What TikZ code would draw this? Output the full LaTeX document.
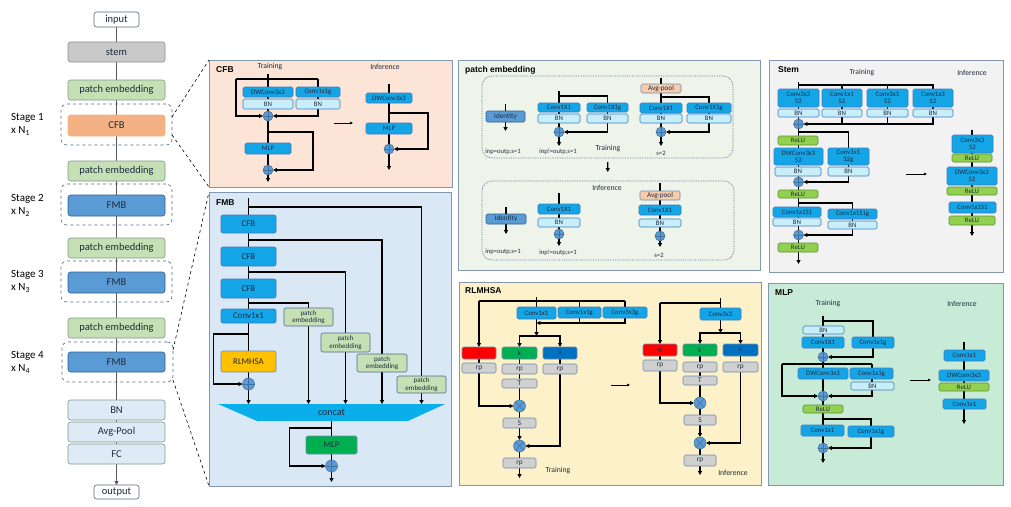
\documentclass[tikz,border=0pt]{standalone}
\usepackage{fontspec}
\setmainfont{Carlito}
\newfontfamily\ttlfont{Liberation Sans}
\usetikzlibrary{arrows.meta,calc}
\pgfdeclarelayer{back}
\pgfdeclarelayer{mid}
\pgfsetlayers{back,mid,main}
\definecolor{ctxt}{HTML}{1E2A3E}
\definecolor{cblue}{HTML}{14A5E6}
\definecolor{cbord}{HTML}{3B7BBF}
\definecolor{cbn}{HTML}{C8EEFA}
\definecolor{crelu}{HTML}{92D050}
\definecolor{creluB}{HTML}{5E8F30}
\definecolor{cgray}{HTML}{D0D0D0}
\definecolor{cgrayB}{HTML}{6D8BB0}
\definecolor{ccirc}{HTML}{5B9BD5}
\definecolor{ccircB}{HTML}{41719C}
\definecolor{pnlB}{HTML}{8597AF}
\definecolor{bgcfb}{HTML}{FCE5D7}
\definecolor{bgfmb}{HTML}{DAE7F4}
\definecolor{bgpe}{HTML}{EEF4E9}
\definecolor{bgrl}{HTML}{FDF1C9}
\definecolor{bgst}{HTML}{F2F2F2}
\definecolor{bgmlp}{HTML}{C8EBD7}
\definecolor{lgreen}{HTML}{C5E0B4}
\definecolor{lgreenB}{HTML}{7F9A8A}
\definecolor{lstem}{HTML}{C9C9C9}
\definecolor{lorange}{HTML}{F4B183}
\definecolor{lfmbc}{HTML}{5B9BD5}
\definecolor{lfmbB}{HTML}{2F5F8F}
\definecolor{lhead}{HTML}{DEEBF7}
\definecolor{lslate}{HTML}{51698A}
\definecolor{cyel}{HTML}{FFC000}
\definecolor{cgreen}{HTML}{00B050}
\definecolor{cq}{HTML}{FF0000}
\definecolor{cv}{HTML}{0070C0}
\definecolor{cap}{HTML}{F8CBAD}
\definecolor{ccat}{HTML}{0AAEEB}
\newcommand\mybox[7]{\node[#6, minimum width={(#4)-(#2)}, minimum height={(#5)-(#3)}] (#1) at ({((#2)+(#4))/2},{((#3)+(#5))/2}) {#7};}
\newcommand\pcirc[3]{\node[plusc, minimum size={2*(#3)}] (#1) at (#2) {}; \draw[plusl] (#1.north) -- (#1.south) (#1.west) -- (#1.east);}
\newcommand\xcirc[3]{\node[plusc, minimum size={2*(#3)}] (#1) at (#2) {}; \draw[plusl] (#1.north west) -- (#1.south east) (#1.north east) -- (#1.south west);}
\tikzset{
 bxbase/.style={rounded corners=1.5pt, inner sep=0pt, outer sep=0pt, line width=0.6pt, font=\fontsize{6.8}{7.1}\selectfont, text=ctxt},
 bxcv/.style={bxbase, draw=cbord, fill=cblue},
 bxcv2/.style={bxcv, align=center},
 bxbn/.style={bxbase, draw=cbord, fill=cbn},
 bxrelu/.style={bxbase, draw=creluB, fill=crelu},
 bxgr/.style={bxbase, draw=cgrayB, fill=cgray, font=\fontsize{7.3}{7.6}\selectfont},
 bxq/.style={bxbase, draw=cgrayB, fill=cq},
 bxk/.style={bxbase, draw=cgrayB, fill=cgreen},
 bxv/.style={bxbase, draw=cgrayB, fill=cv},
 bxid/.style={bxbase, draw=lfmbB, fill=lfmbc, font=\fontsize{7.2}{7.4}\selectfont},
 bxap/.style={bxbase, draw=cgrayB, fill=cap, font=\fontsize{7.2}{7.4}\selectfont},
 bxfm/.style={bxbase, draw=cbord, fill=cblue, rounded corners=2pt, font=\fontsize{8.8}{9}\selectfont},
 bxpe/.style={bxbase, draw=lslate, fill=lgreen, rounded corners=2pt, align=center, font=\fontsize{7}{7.6}\selectfont},
 lbox/.style={rounded corners=2.5pt, inner sep=0pt, outer sep=0pt, line width=0.6pt, draw=lslate, font=\fontsize{10.5}{11}\selectfont, text=ctxt},
 lpe/.style={lbox, fill=lgreen, draw=lgreenB},
 lfmb/.style={lbox, fill=lfmbc, draw=lfmbB},
 lhd/.style={lbox, fill=lhead, draw=lgreenB},
 stg/.style={rounded corners=6pt, inner sep=0pt, outer sep=0pt, draw=lslate, dashed, line width=0.6pt},
 stagel/.style={font=\fontsize{11}{12}\selectfont, text=black, inner sep=0pt},
 pnl/.style={inner sep=0pt, outer sep=0pt, draw=pnlB, line width=1pt},
 dotbx/.style={inner sep=0pt, outer sep=0pt, draw=lslate, densely dotted, rounded corners=10pt, line width=0.7pt},
 ttl/.style={font=\ttlfont\bfseries\fontsize{8.5}{9}\selectfont, text=black, inner sep=0pt, anchor=west},
 lab/.style={font=\fontsize{7.7}{8}\selectfont, text=ctxt, inner sep=0pt},
 sml/.style={font=\fontsize{6.6}{7}\selectfont, text=ctxt, inner sep=0pt},
 plusc/.style={circle, fill=ccirc, draw=ccircB, line width=0.5pt, inner sep=0pt, outer sep=0pt},
 plusl/.style={draw=ccircB, line width=0.5pt},
 myln/.style={line width=1.1pt, black},
 myarr/.style={myln, -{Triangle[length=3.8pt,width=3.8pt]}},
 myarrt/.style={line width=0.7pt, black, -{Triangle[length=3pt,width=2.6pt]}},
 lline/.style={line width=0.9pt, draw=black!65},
 larr/.style={lline, -{Triangle[length=3.8pt,width=3.8pt]}},
 dconn/.style={dashed, line width=0.6pt, black},
}
\begin{document}
\begin{tikzpicture}[x=1pt,y=-1pt]
\useasboundingbox (0,0) rectangle (1011,506);
% ---------------- panels
\begin{pgfonlayer}{back}
\fill[white] (0,0) rectangle (1011,506);
\mybox{P_cfb}{209}{60}{452}{187}{pnl, fill=bgcfb}{}
\mybox{P_fmb}{209}{192}{451}{486}{pnl, fill=bgfmb}{}
\mybox{P_pe}{458}{60}{760}{270}{pnl, fill=bgpe}{}
\mybox{P_rl}{459}{282}{761}{485}{pnl, fill=bgrl}{}
\mybox{P_st}{769}{60}{1003}{272}{pnl, fill=bgst}{}
\mybox{P_mlp}{768}{283}{1003}{485}{pnl, fill=bgmlp}{}
\end{pgfonlayer}
% ---------------- left column
\mybox{L_in}{94}{12}{139}{27}{lbox, fill=white}{input}
\mybox{L_stem}{68}{42}{165}{62}{lbox, fill=lstem, draw=black!45}{stem}
\mybox{L_pe1}{68}{80}{165}{100}{lpe}{patch embedding}
\mybox{L_s1}{61}{104}{172}{145}{stg}{}
\mybox{L_cfb}{68}{115}{165}{136}{lbox, fill=lorange, draw=lorange}{CFB}
\mybox{L_pe2}{68}{161}{165}{181}{lpe}{patch embedding}
\mybox{L_s2}{61}{184}{172}{225}{stg}{}
\mybox{L_f2}{68}{195}{165}{216}{lfmb}{FMB}
\mybox{L_pe3}{68}{238}{165}{258}{lpe}{patch embedding}
\mybox{L_s3}{61}{261}{172}{302}{stg}{}
\mybox{L_f3}{68}{272}{165}{293}{lfmb}{FMB}
\mybox{L_pe4}{68}{318}{165}{338}{lpe}{patch embedding}
\mybox{L_s4}{62}{342}{173}{382}{stg}{}
\mybox{L_f4}{68}{352}{165}{372}{lfmb}{FMB}
\mybox{L_bn}{68}{400}{165}{420}{lhd}{BN}
\mybox{L_ap}{68}{422}{165}{442}{lhd}{Avg-Pool}
\mybox{L_fc}{68}{444}{165}{464}{lhd}{FC}
\mybox{L_out}{94}{485}{139}{499}{lbox, fill=white}{output}
\node[stagel, anchor=west] (L_t1) at (11,118) {Stage 1};
\node[stagel, anchor=west] (L_n1) at (11,131) {x N\textsubscript{1}};
\node[stagel, anchor=west] (L_t2) at (11,199) {Stage 2};
\node[stagel, anchor=west] (L_n2) at (11,212) {x N\textsubscript{2}};
\node[stagel, anchor=west] (L_t3) at (11,275) {Stage 3};
\node[stagel, anchor=west] (L_n3) at (11,288) {x N\textsubscript{3}};
\node[stagel, anchor=west] (L_t4) at (11,356) {Stage 4};
\node[stagel, anchor=west] (L_n4) at (11,369) {x N\textsubscript{4}};
\begin{pgfonlayer}{mid}
\draw[lline] (L_in) -- (L_fc);
\draw[larr] (L_fc) -- (L_out);
\end{pgfonlayer}
\draw[dconn] ($(L_s1.east)+(0,-7.5)$) -- (P_cfb.north west);
\draw[dconn] ($(L_s1.east)+(0,10.5)$) -- (P_cfb.south west);
\draw[dconn] ($(L_s4.east)+(0,-12)$) -- (P_fmb.north west);
\draw[dconn] ($(L_s4.east)+(0,18)$) -- (P_fmb.south west);
% ---------------- CFB panel
\node[ttl] (T_cfb) at (216,70) {CFB};
\node[lab] (c_lt) at (270,67) {Training};
\node[lab] (c_li) at (385,67) {Inference};
\mybox{c_dw}{243}{87}{293}{97}{bxcv}{DWConv3x3}
\mybox{c_dwbn}{243}{99}{293}{109}{bxbn}{BN}
\mybox{c_g}{296}{87}{340}{97}{bxcv}{Conv1x1g}
\mybox{c_gbn}{296}{99}{340}{109}{bxbn}{BN}
\pcirc{c_p1}{268,116}{5}
\mybox{c_mlp}{245}{143}{291}{154}{bxcv}{MLP}
\pcirc{c_p2}{268,170}{5}
\coordinate (c_top) at (268,74);
\coordinate (c_tl) at (236,79);
\coordinate (c_tr) at (318,79);
\coordinate (c_s1) at (268,132);
\coordinate (c_s2) at (313,132);
\coordinate (c_out) at (268,182);
\coordinate (c_ma) at (334,123);
\coordinate (c_mb) at (353,123);
\coordinate (ci_top) at (389,84);
\mybox{ci_dw}{366}{93}{412}{103}{bxcv}{DWConv3x3}
\mybox{ci_mlp}{366}{123}{412}{134}{bxcv}{MLP}
\pcirc{ci_p}{389,149}{5}
\coordinate (ci_s) at (389,113);
\coordinate (ci_r) at (428,113);
\coordinate (ci_out) at (389,170);
\begin{pgfonlayer}{mid}
\draw[myln] (c_top) -- (c_p1);
\draw[myln] (c_tl) -- (c_tr);
\draw[myarr] (c_tl) |- (c_p1);
\draw[myarr] (c_tr) |- (c_p1);
\draw[myln] (c_p1) -- (c_p2);
\draw[myarr] (c_s1) -- (c_s2) |- (c_p2);
\draw[myarr] (c_p2) -- (c_out);
\draw[myarrt] (c_ma) -- (c_mb);
\draw[myln] (ci_top) -- (ci_p);
\draw[myarr] (ci_s) -- (ci_r) |- (ci_p);
\draw[myarr] (ci_p) -- (ci_out);
\end{pgfonlayer}
% ---------------- FMB panel
\node[ttl] (T_fmb) at (216,203) {FMB};
\coordinate (f_top) at (248.5,198);
\mybox{f_c1}{221}{215}{276}{233}{bxfm}{CFB}
\mybox{f_c2}{221}{247}{276}{266}{bxfm}{CFB}
\mybox{f_c3}{221}{279}{276}{298}{bxfm}{CFB}
\mybox{f_cv}{221}{309}{276}{323}{bxfm}{Conv1x1}
\mybox{f_rl}{221}{351}{276}{372}{bxfm, fill=cyel, draw=cgrayB}{RLMHSA}
\pcirc{f_p1}{248.5,384}{6}
\mybox{f_pe1}{284}{308}{333}{326}{bxpe}{patch\\embedding}
\mybox{f_pe2}{321}{333}{370}{352}{bxpe}{patch\\embedding}
\mybox{f_pe3}{357}{354}{407}{372}{bxpe}{patch\\embedding}
\mybox{f_pe4}{397}{376}{446}{393}{bxpe}{patch\\embedding}
\fill[ccat] (218,404) -- (445,404) -- (408,421) -- (257,421) -- cycle;
\mybox{f_cat}{218}{404}{445}{421}{inner sep=0pt, outer sep=0pt, font=\fontsize{10}{11}\selectfont, text=ctxt}{concat}
\mybox{f_mlp}{306}{436}{357}{454}{bxfm, fill=cgreen, draw=cgrayB}{MLP}
\pcirc{f_p2}{331.5,466}{6}
\coordinate (f_b4) at (248.5,207);
\coordinate (f_b3) at (248.5,240);
\coordinate (f_b2) at (248.5,272);
\coordinate (f_b1) at (248.5,303);
\coordinate (f_s) at (248.5,334);
\coordinate (f_ms) at (331.5,428);
\coordinate (f_out) at (331.5,482);
\begin{pgfonlayer}{mid}
\draw[myln] (f_top) -- (f_p1);
\draw[myarr] (f_b4) -| (f_pe4.center) -- (f_pe4.center |- f_cat.north);
\draw[myarr] (f_b3) -| (f_pe3.center) -- (f_pe3.center |- f_cat.north);
\draw[myarr] (f_b2) -| (f_pe2.center) -- (f_pe2.center |- f_cat.north);
\draw[myarr] (f_b1) -| (f_pe1.center) -- (f_pe1.center |- f_cat.north);
\draw[myarr] (f_s) -- ++(-35,0) |- (f_p1);
\draw[myarr] (f_p1) -- (f_p1 |- f_cat.north);
\draw[myln] (f_cat.south) -- (f_p2);
\draw[myarr] (f_ms) -- ++(-42,0) |- (f_p2);
\draw[myarr] (f_p2) -- (f_out);
\end{pgfonlayer}
% ---------------- patch embedding panel
\node[ttl] (T_pe) at (465,70) {patch embedding};
\mybox{pe_tr}{482}{76}{733}{158}{dotbx}{}
\mybox{pe_in}{482}{181}{734}{260}{dotbx}{}
\mybox{pe_id}{486}{111}{525}{122}{bxid}{Identity}
\coordinate (pe_idt) at (505.5,104);
\coordinate (pe_idb) at (505.5,131);
\node[sml] (pe_l1) at (503,152) {inp=outp,s=1};
\mybox{pe_a}{538}{103}{580}{112}{bxcv}{Conv1X1}
\mybox{pe_abn}{538}{114}{580}{123}{bxbn}{BN}
\mybox{pe_b}{587}{103}{628}{112}{bxcv}{Conv1X1g}
\mybox{pe_bbn}{587}{114}{628}{123}{bxbn}{BN}
\pcirc{pe_p1}{559,132}{5}
\coordinate (pe_t1) at (559,91);
\coordinate (pe_j1) at (559,96);
\coordinate (pe_o1) at (559,146);
\node[sml] (pe_l2) at (558,152) {inp!=outp,s=1};
\node[lab] (pe_l3) at (608,149) {Training};
\coordinate (pe_t2) at (661,78);
\mybox{pe_ap}{641}{84}{681}{93}{bxap}{Avg-pool}
\mybox{pe_c}{640}{103}{682}{113}{bxcv}{Conv1X1}
\mybox{pe_cbn}{640}{114}{682}{123}{bxbn}{BN}
\mybox{pe_d}{687}{103}{731}{113}{bxcv}{Conv1X1g}
\mybox{pe_dbn}{687}{114}{731}{123}{bxbn}{BN}
\pcirc{pe_p2}{661,132}{5}
\coordinate (pe_j2) at (661,97);
\coordinate (pe_o2) at (661,146);
\node[sml] (pe_l4) at (661,153) {s=2};
\node[lab] (pi_l0) at (607,188) {Inference};
\mybox{pi_id}{486}{214}{526}{224}{bxid}{Identity}
\coordinate (pi_idt) at (506,207);
\coordinate (pi_idb) at (506,234);
\node[sml] (pi_l1) at (503,252) {inp=outp,s=1};
\mybox{pi_a}{538}{204}{580}{214}{bxcv}{Conv1X1}
\mybox{pi_abn}{538}{218}{580}{227}{bxbn}{BN}
\pcirc{pi_p1}{559,234}{5}
\coordinate (pi_t1) at (559,193);
\coordinate (pi_o1) at (559,246);
\node[sml] (pi_l2) at (558,253) {inp!=outp,s=1};
\coordinate (pi_t2) at (660,183);
\mybox{pi_ap}{640}{191}{680}{200}{bxap}{Avg-pool}
\mybox{pi_c}{639}{205}{681}{215}{bxcv}{Conv1X1}
\mybox{pi_cbn}{639}{219}{681}{227}{bxbn}{BN}
\pcirc{pi_p2}{660,236}{5}
\coordinate (pi_o2) at (660,247);
\node[sml] (pi_l4) at (659,255) {s=2};
\begin{pgfonlayer}{mid}
\draw[myln] (pe_idt) -- (pe_id);
\draw[myarr] (pe_id) -- (pe_idb);
\draw[myln] (pe_t1) -- (pe_p1);
\draw[myarr] (pe_j1) -| (pe_b.center) |- (pe_p1);
\draw[myarr] (pe_p1) -- (pe_o1);
\draw[myln] (pe_t2) -- (pe_p2);
\draw[myarr] (pe_j2) -| (pe_d.center) |- (pe_p2);
\draw[myarr] (pe_p2) -- (pe_o2);
\draw[myarr, shorten <=4pt, shorten >=9pt] (pe_tr) -- (pe_in);
\draw[myln] (pi_idt) -- (pi_id);
\draw[myarr] (pi_id) -- (pi_idb);
\draw[myln] (pi_t1) -- (pi_p1);
\draw[myarr] (pi_p1) -- (pi_o1);
\draw[myln] (pi_t2) -- (pi_p2);
\draw[myarr] (pi_p2) -- (pi_o2);
\end{pgfonlayer}
% ---------------- RLMHSA panel
\node[ttl] (T_rl) at (465,291) {RLMHSA};
\mybox{r_a}{517}{307}{556}{319}{bxcv}{Conv1x1}
\mybox{r_b}{558}{307}{601}{318}{bxcv}{Conv1x1g}
\mybox{r_c}{603}{307}{647}{318}{bxcv}{Conv3x3g}
\coordinate (r_top) at (536.5,297);
\coordinate (r_jL) at (479,301);
\coordinate (r_jR) at (625,301);
\coordinate (r_j3) at (536.5,323);
\coordinate (r_jk) at (536.5,336);
\mybox{r_q}{462}{347}{496}{359}{bxq}{q}
\mybox{r_k}{502}{347}{537}{359}{bxk}{k}
\mybox{r_v}{543}{347}{577}{359}{bxv}{v}
\mybox{r_qrp}{462}{363}{496}{373}{bxgr}{rp}
\mybox{r_krp}{502}{364}{537}{374}{bxgr}{rp}
\mybox{r_T}{502}{379}{537}{388}{bxgr}{T}
\mybox{r_vrp}{543}{364}{577}{374}{bxgr}{rp}
\xcirc{r_x1}{519.5,406}{6}
\mybox{r_S}{503}{418}{536}{428}{bxgr}{S}
\xcirc{r_x2}{519.5,446}{6}
\mybox{r_rp}{503}{458}{536}{468}{bxgr}{rp}
\coordinate (r_out) at (519.5,478);
\node[lab] (r_lt) at (558,471) {Training};
\coordinate (r_ma) at (611,385);
\coordinate (r_mb) at (630,385);
\mybox{ri_a}{700}{308}{741}{320}{bxcv}{Conv3x3}
\coordinate (ri_top) at (720.5,298);
\coordinate (ri_jL) at (660,303);
\coordinate (ri_jk) at (720.5,333);
\mybox{ri_q}{643}{344}{677}{356}{bxq}{q}
\mybox{ri_k}{683}{344}{717}{356}{bxk}{k}
\mybox{ri_v}{723}{344}{758}{356}{bxv}{v}
\mybox{ri_qrp}{643}{360}{677}{371}{bxgr}{rp}
\mybox{ri_krp}{683}{362}{717}{372}{bxgr}{rp}
\mybox{ri_T}{683}{376}{717}{385}{bxgr}{T}
\mybox{ri_vrp}{723}{362}{758}{372}{bxgr}{rp}
\xcirc{ri_x1}{700,403}{6}
\mybox{ri_S}{684}{415}{716}{425}{bxgr}{S}
\xcirc{ri_x2}{700,443}{6}
\mybox{ri_rp}{684}{455}{716}{466}{bxgr}{rp}
\coordinate (ri_out) at (700,475);
\node[lab] (ri_lt) at (733,473) {Inference};
\begin{pgfonlayer}{mid}
\draw[myln] (r_jL) -- (r_jR);
\draw[myarr] (r_jL) -- (r_q);
\draw[myln] (r_jL -| r_b) -- (r_j3 -| r_b);
\draw[myarr] (r_jR) |- (r_j3);
\draw[myarr] (r_top) -- (r_jk);
\draw[myarr] (r_jk) -| (r_k);
\draw[myarr] (r_jk) -| (r_v);
\draw[myln] (r_q) -- (r_qrp);
\draw[myarr] (r_qrp) |- (r_x1);
\draw[myln] (r_k) -- (r_krp);
\draw[myln] (r_krp) -- (r_T);
\draw[myln] (r_T) -- (r_x1);
\draw[myln] (r_v) -- (r_vrp);
\draw[myln] (r_x1) -- (r_S);
\draw[myarr] (r_S) -- (r_x2);
\draw[myarr] (r_vrp) |- (r_x2);
\draw[myln] (r_x2) -- (r_rp);
\draw[myarr] (r_rp) -- (r_out);
\draw[myarrt] (r_ma) -- (r_mb);
\draw[myln] (ri_jL) -| (ri_top);
\draw[myarr] (ri_jL) -- (ri_q);
\draw[myarr] (ri_top) -- (ri_jk);
\draw[myarr] (ri_jk) -| (ri_k);
\draw[myarr] (ri_jk) -| (ri_v);
\draw[myln] (ri_q) -- (ri_qrp);
\draw[myarr] (ri_qrp) |- (ri_x1);
\draw[myln] (ri_k) -- (ri_krp);
\draw[myln] (ri_krp) -- (ri_T);
\draw[myln] (ri_T) -- (ri_x1);
\draw[myln] (ri_v) -- (ri_vrp);
\draw[myln] (ri_x1) -- (ri_S);
\draw[myarr] (ri_S) -- (ri_x2);
\draw[myarr] (ri_vrp) |- (ri_x2);
\draw[myln] (ri_x2) -- (ri_rp);
\draw[myarr] (ri_rp) -- (ri_out);
\end{pgfonlayer}
% ---------------- Stem panel
\node[ttl] (T_st) at (778,70) {Stem};
\node[lab] (s_lt) at (862,73) {Training};
\node[lab] (s_li) at (972,73) {Inference};
\coordinate (s_top) at (798.5,82);
\coordinate (s_j) at (798.5,85);
\mybox{s_a}{778}{89}{819}{107}{bxcv2}{Conv3x3\\S2}
\mybox{s_abn}{778}{109}{819}{117}{bxbn}{BN}
\mybox{s_b}{822}{89}{862}{107}{bxcv2}{Conv1x1\\S2}
\mybox{s_bbn}{822}{109}{862}{117}{bxbn}{BN}
\mybox{s_c}{867}{89}{908}{107}{bxcv2}{Conv3x1\\S2}
\mybox{s_cbn}{867}{109}{908}{117}{bxbn}{BN}
\mybox{s_d}{913}{89}{953}{107}{bxcv2}{Conv1x3\\S2}
\mybox{s_dbn}{913}{109}{953}{117}{bxbn}{BN}
\pcirc{s_p1}{798.5,124}{5}
\mybox{s_r1}{778}{136}{818}{145}{bxrelu}{ReLU}
\coordinate (s_j2) at (798.5,132);
\mybox{s_e}{774}{148}{823}{165}{bxcv2}{DWConv3x3\\S2}
\mybox{s_ebn}{775}{167}{821}{176}{bxbn}{BN}
\mybox{s_f}{828}{148}{869}{165}{bxcv2}{Conv1x1\\S2g}
\mybox{s_fbn}{828}{167}{869}{176}{bxbn}{BN}
\pcirc{s_p2}{798.5,182}{5}
\mybox{s_r2}{778}{190}{818}{198}{bxrelu}{ReLU}
\coordinate (s_j3) at (798.5,203);
\mybox{s_g}{773}{207}{821}{217}{bxcv}{Conv1x1S1}
\mybox{s_gbn}{773}{218}{821}{226}{bxbn}{BN}
\mybox{s_h}{828}{209}{877}{219}{bxcv}{Conv1x1S1g}
\mybox{s_hbn}{828}{221}{877}{229}{bxbn}{BN}
\pcirc{s_p3}{798.5,235}{5}
\mybox{s_r3}{778}{243}{818}{252}{bxrelu}{ReLU}
\coordinate (s_out) at (798.5,264);
\coordinate (s_ma) at (906,174);
\coordinate (s_mb) at (927,174);
\coordinate (si_top) at (972,130);
\coordinate (si_out) at (972,236);
\mybox{si_a}{952}{135}{993}{153}{bxcv2}{Conv3x3\\S2}
\mybox{si_ar}{952}{154}{992}{162}{bxrelu}{ReLU}
\mybox{si_b}{947}{167}{997}{185}{bxcv2}{DWConv3x3\\S2}
\mybox{si_br}{947}{187}{997}{195}{bxrelu}{ReLU}
\mybox{si_c}{949}{202}{996}{213}{bxcv}{Conv1x1S1}
\mybox{si_cr}{949}{216}{995}{225}{bxrelu}{ReLU}
\begin{pgfonlayer}{mid}
\draw[myln] (s_top) -- (s_p1);
\draw[myln] (s_j) -| (s_d.center);
\draw[myarr] (s_d.center) |- (s_p1);
\draw[myln] (s_j -| s_b) -- (s_b.center |- s_p1);
\draw[myln] (s_j -| s_c) -- (s_c.center |- s_p1);
\draw[myln] (s_p1) -- (s_p2);
\draw[myarr] (s_j2) -| (s_f.center) |- (s_p2);
\draw[myln] (s_p2) -- (s_p3);
\draw[myarr] (s_j3) -| (s_h.center) |- (s_p3);
\draw[myarr] (s_p3) -- (s_out);
\draw[myarrt] (s_ma) -- (s_mb);
\draw[myarr] (si_top) -- (si_out);
\end{pgfonlayer}
% ---------------- MLP panel
\node[ttl] (T_mlp) at (775,293) {MLP};
\node[lab] (m_lt) at (828,304) {Training};
\node[lab] (m_li) at (962,304) {Inference};
\coordinate (m_top) at (823,316);
\coordinate (m_j1) at (823,321);
\mybox{m_bn}{803}{326}{844}{334}{bxbn}{BN}
\mybox{m_a}{802}{337}{844}{348}{bxcv}{Conv1X1}
\mybox{m_b}{852}{337}{894}{348}{bxcv}{Conv1x1g}
\pcirc{m_p1}{823,357}{5}
\coordinate (m_jl) at (782,364);
\coordinate (m_jr) at (872,364);
\mybox{m_c}{798}{368}{848}{379}{bxcv}{DWConv3x3}
\mybox{m_d}{850}{368}{893}{379}{bxcv}{Conv1x1g}
\mybox{m_dbn}{851}{382}{894}{390}{bxbn}{BN}
\pcirc{m_p2}{823,396}{5}
\mybox{m_r}{803}{405}{843}{413}{bxrelu}{ReLU}
\coordinate (m_j3) at (823,419);
\mybox{m_e}{801}{425}{844}{436}{bxcv}{Conv1x1}
\mybox{m_f}{848}{426}{894}{437}{bxcv}{Conv1x1g}
\pcirc{m_p3}{823,448}{5}
\coordinate (m_out) at (823,463);
\coordinate (m_ma) at (910,380);
\coordinate (m_mb) at (931,380);
\coordinate (mi_top) at (964,342);
\coordinate (mi_out) at (964,424);
\mybox{mi_a}{944}{350}{985}{361}{bxcv}{Conv1x1}
\mybox{mi_b}{939}{370}{989}{381}{bxcv}{DWConv3x3}
\mybox{mi_br}{939}{383}{989}{391}{bxrelu}{ReLU}
\mybox{mi_c}{943}{399}{986}{409}{bxcv}{Conv1x1}
\begin{pgfonlayer}{mid}
\draw[myln] (m_top) -- (m_p1);
\draw[myarr] (m_j1) -| (m_b.center) |- (m_p1);
\draw[myln] (m_jl) -- (m_jr);
\draw[myarr] (m_jl) |- (m_p2);
\draw[myarr] (m_jr) |- (m_p2);
\draw[myln] (m_p1) -- (m_p2);
\draw[myln] (m_p2) -- (m_p3);
\draw[myarr] (m_j3) -| (m_f.center) |- (m_p3);
\draw[myarr] (m_p3) -- (m_out);
\draw[myarrt] (m_ma) -- (m_mb);
\draw[myarr] (mi_top) -- (mi_out);
\end{pgfonlayer}
\end{tikzpicture}
\end{document}
